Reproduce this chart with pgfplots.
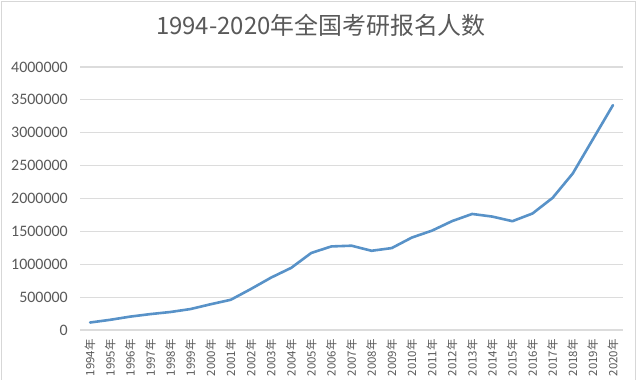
\documentclass[border=0pt]{standalone}
\usepackage{pgfplots}
\pgfplotsset{compat=1.18}
\usepackage{fontspec}
\setmainfont{Carlito}
\newfontfamily\cjk{Noto Sans CJK SC}
\definecolor{txt}{RGB}{89,89,89}
\definecolor{gridc}{RGB}{220,220,220}
\definecolor{linec}{RGB}{88,146,200}
\definecolor{framec}{RGB}{215,215,215}
\pgfplotstableread{
year value
1994 114000
1995 155000
1996 204000
1997 242000
1998 274000
1999 319000
2000 392000
2001 460000
2002 624000
2003 797000
2004 945000
2005 1172000
2006 1271200
2007 1282000
2008 1205000
2009 1246000
2010 1406000
2011 1511000
2012 1656000
2013 1765000
2014 1725000
2015 1655000
2016 1772000
2017 2010000
2018 2380000
2019 2900000
2020 3420000
}\datatable
\begin{document}
\begin{tikzpicture}[x=1bp,y=1bp]
\useasboundingbox (0,0) rectangle (641,379);
\begin{scope}
\clip (0,0) rectangle (641,379);
\fill[white] (0,0) rectangle (641,379);
\draw[color=framec, line width=1.2bp] (1.5,-20) rectangle (635.5,377.5);
\begin{axis}[
  at={(80bp,49bp)}, anchor=south west,
  scale only axis, width=543bp, height=263bp,
  xmin=1993.5, xmax=2020.5, ymin=0, ymax=4000000,
  ytick={0,500000,...,4000000},
  xtick={1994,...,2020},
  xticklabels={1994年,1995年,1996年,1997年,1998年,1999年,2000年,2001年,2002年,2003年,2004年,2005年,2006年,2007年,2008年,2009年,2010年,2011年,2012年,2013年,2014年,2015年,2016年,2017年,2018年,2019年,2020年},
  axis line style={draw=none},
  tick style={draw=none},
  ymajorgrids, grid style={color=gridc, line width=1.1bp},
  scaled y ticks=false,
  /pgf/number format/assume math mode=true,
  yticklabel style={/pgf/number format/fixed, /pgf/number format/precision=0, /pgf/number format/1000 sep={}, font=\fontsize{16}{16}\selectfont, color=txt, inner sep=0pt, anchor=east},
  yticklabel shift=12bp,
  xticklabel style={font=\cjk\fontsize{11.5}{11.5}\selectfont, color=txt, rotate=90, anchor=east, inner sep=0pt},
  xticklabel shift=9bp,
  title={1994-2020年全国考研报名人数},
  title style={font=\cjk\fontsize{24}{24}\selectfont, color=txt, at={(axis description cs:0.4438,1.135)}, anchor=center, inner sep=0pt},
]
\addplot[color=linec, line width=2.6bp, line join=round, line cap=round, no marks] table[x=year, y=value] {\datatable};
\end{axis}
\end{scope}
\end{tikzpicture}
\end{document}
